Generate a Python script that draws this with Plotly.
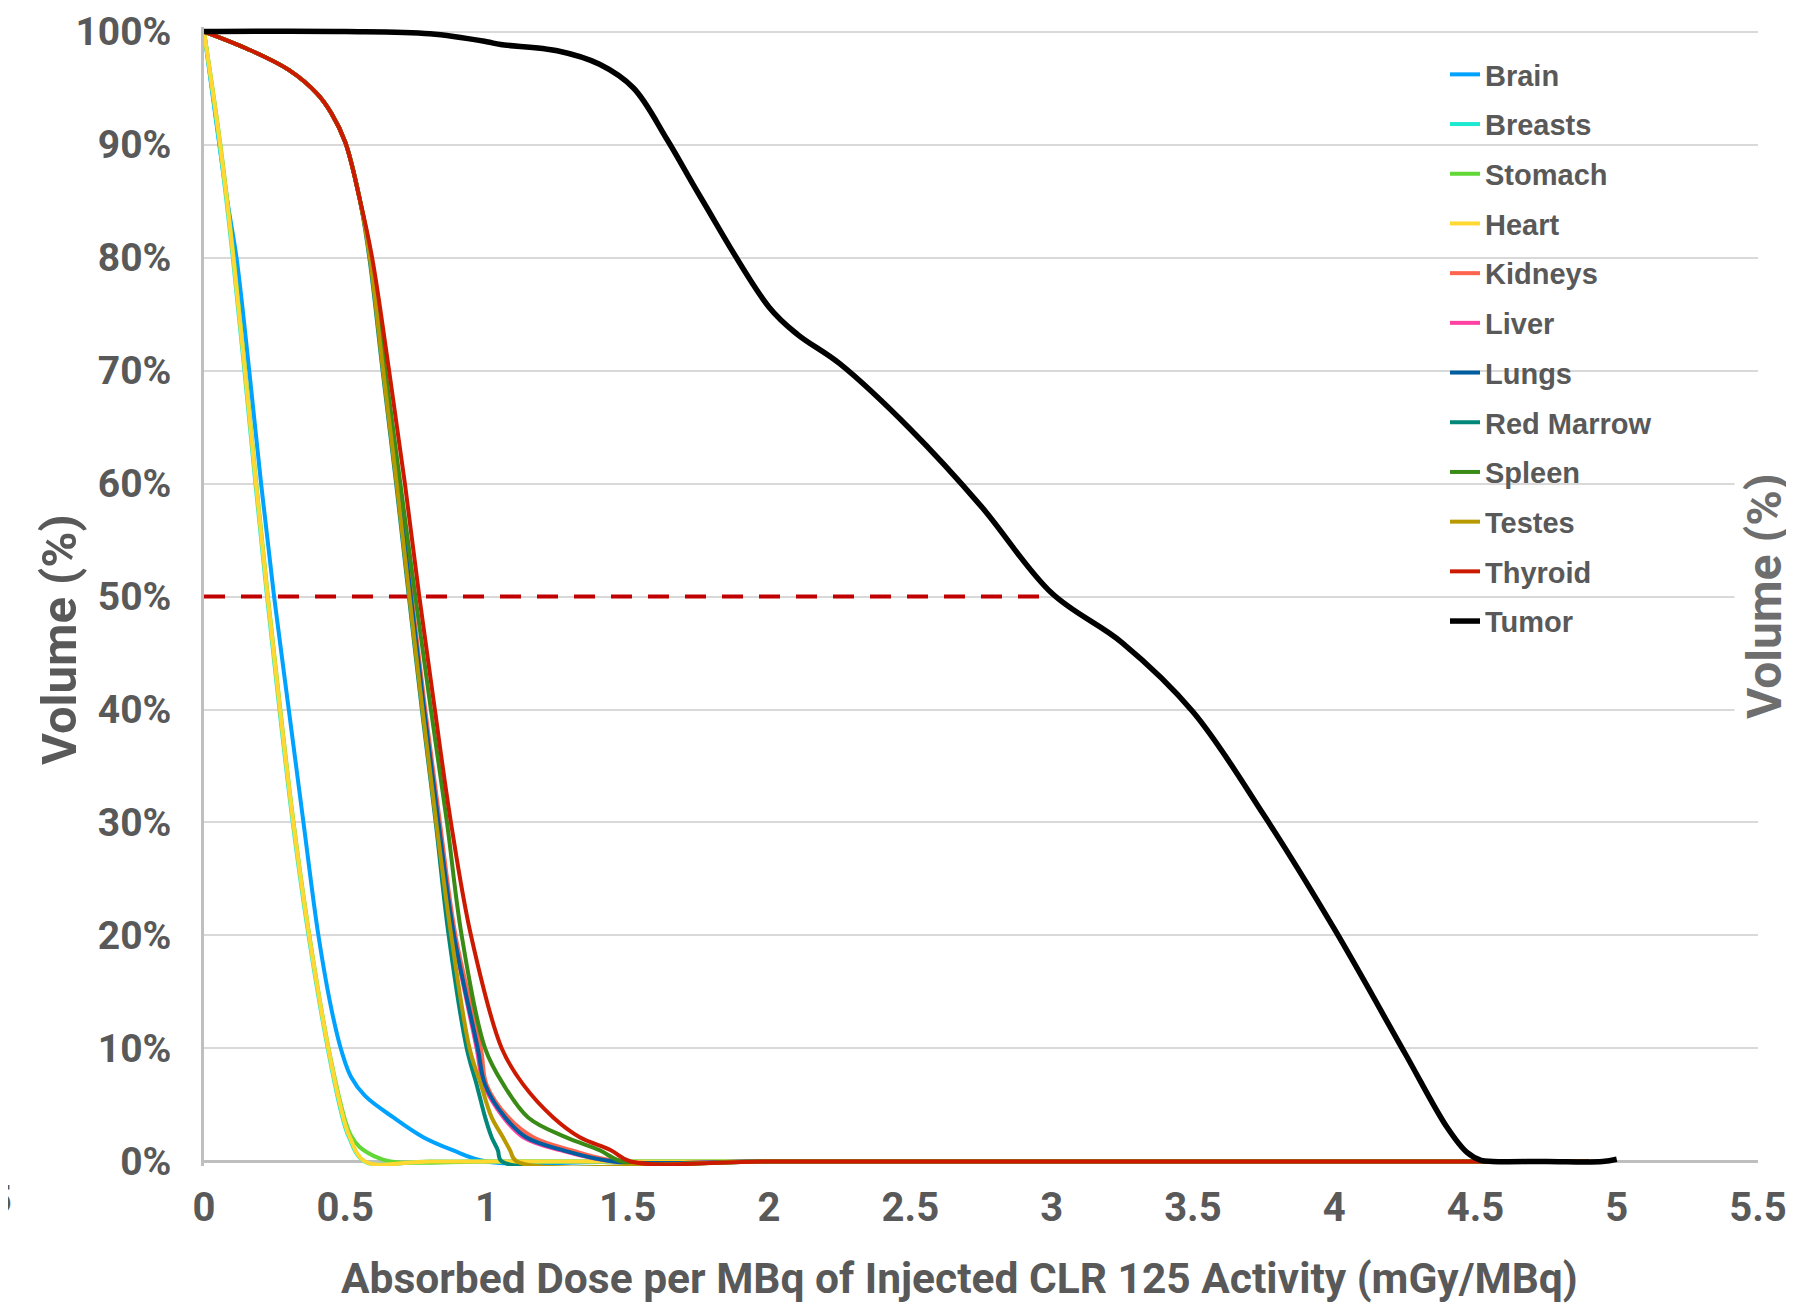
import plotly.graph_objects as go

# ---------------- data ----------------
organ_names = ["Brain", "Breasts", "Stomach", "Heart", "Kidneys", "Liver", "Lungs",
               "Red Marrow", "Spleen", "Testes", "Thyroid", "Tumor"]
organ_colors = ["#00A2FF", "#1DE9D0", "#61D836", "#FFD932", "#FF644E", "#FF42A1", "#005DA0",
                "#00877A", "#3A8A16", "#B89A00", "#CC1A00", "#000000"]

tail_zero_x = [2.0, 3.0, 4.0, 4.9]
tail_zero_y = [0, 0, 0, 0]

brain_x = [0, 0.082, 0.115, 0.16, 0.202, 0.248, 0.30, 0.352, 0.405, 0.455, 0.49, 0.52, 0.57, 0.67, 0.776, 0.88, 1.0, 1.5]
brain_y = [100, 85.1, 80, 70, 60, 50, 40, 30, 20, 13, 9.5, 7.5, 5.8, 3.9, 2.15, 1.0, 0, 0]

breasts_x = [0, 0.055, 0.102, 0.143, 0.182, 0.223, 0.267, 0.314, 0.37, 0.438, 0.49, 0.513, 0.568, 0.8, 1.5]
breasts_y = [100, 90, 80, 70, 60, 50, 40, 30, 20, 10, 3.9, 2.15, 0, 0, 0]

stomach_x = [0, 0.058, 0.105, 0.146, 0.185, 0.226, 0.27, 0.317, 0.373, 0.441, 0.5, 0.52, 0.55, 0.6, 0.66, 1.0, 1.5]
stomach_y = [100, 90, 80, 70, 60, 50, 40, 30, 20, 10, 3.6, 2.3, 1.3, 0.5, 0, 0, 0]

heart_x = [0, 0.057, 0.104, 0.145, 0.184, 0.225, 0.269, 0.316, 0.372, 0.44, 0.493, 0.516, 0.57, 0.8, 1.5]
heart_y = [100, 90, 80, 70, 60, 50, 40, 30, 20, 10, 3.9, 2.15, 0, 0, 0]

# second group: shared shoulder then individual fall-off
group2_y = [100, 98.5, 96.6, 94.5, 92.8, 90.2, 85.3, 80, 70, 60, 50, 40, 30, 20, 10, 6.8, 3.9, 2.15, 1.0, 0]
shoulder_x = [0, 0.15, 0.3, 0.4, 0.45, 0.5, 0.55]

kidneys_x = shoulder_x + [0.59, 0.638, 0.688, 0.735, 0.783, 0.835, 0.89, 0.98, 1.0, 1.077, 1.165, 1.30, 1.47]
liver_x = shoulder_x + [0.589, 0.636, 0.685, 0.731, 0.778, 0.829, 0.884, 0.965, 0.99, 1.06, 1.13, 1.26, 1.45]
lungs_x = shoulder_x + [0.589, 0.637, 0.686, 0.732, 0.779, 0.83, 0.885, 0.969, 0.995, 1.066, 1.14, 1.27, 1.45]
marrow_x = shoulder_x + [0.585, 0.632, 0.680, 0.725, 0.771, 0.82, 0.866, 0.93, 0.965, 0.995, 1.018, 1.04, 1.054]
spleen_x = shoulder_x + [0.592, 0.642, 0.695, 0.748, 0.803, 0.86, 0.912, 0.995, 1.06, 1.147, 1.28, 1.40, 1.48]
testes_x = shoulder_x + [0.587, 0.634, 0.682, 0.727, 0.773, 0.822, 0.875, 0.94, 0.98, 1.018, 1.058, 1.083, 1.107]
thyroid_x = shoulder_x + [0.595, 0.655, 0.711, 0.762, 0.817, 0.874, 0.945, 1.054, 1.13, 1.236, 1.33, 1.44, 1.51]

tumor_x = [0, 0.5, 0.8, 1.0, 1.05, 1.25, 1.4, 1.52, 1.64, 1.756, 2.0, 2.1, 2.25, 2.5, 2.75, 3.0,
           3.25, 3.5, 3.75, 4.0, 4.25, 4.4, 4.47, 4.52, 4.56, 4.75, 4.95, 5.0]
tumor_y = [100, 100, 99.8, 99.1, 98.85, 98.3, 97.1, 95.0, 90.4, 85.4, 75.6, 73.2, 70.6, 64.8, 58, 50.3,
           45.9, 39.8, 30.7, 20.6, 9.6, 3.0, 0.8, 0.1, 0, 0, 0, 0.2]

d50_x = [0, 3.0]
d50_y = [50, 50]

x_tick_vals = [0, 0.5, 1, 1.5, 2, 2.5, 3, 3.5, 4, 4.5, 5, 5.5]
x_tick_text = ["0", "0.5", "1", "1.5", "2", "2.5", "3", "3.5", "4", "4.5", "5", "5.5"]
y_tick_vals = [0, 10, 20, 30, 40, 50, 60, 70, 80, 90, 100]
y_tick_text = ["0%", "10%", "20%", "30%", "40%", "50%", "60%", "70%", "80%", "90%", "100%"]

series_x = [brain_x, breasts_x, stomach_x, heart_x, kidneys_x, liver_x, lungs_x,
            marrow_x, spleen_x, testes_x, thyroid_x, tumor_x]
series_y = [brain_y, breasts_y, stomach_y, heart_y, group2_y, group2_y, group2_y,
            group2_y, group2_y, group2_y, group2_y, tumor_y]

# ---------------- figure ----------------
OFF = 8                      # default page body margin
PAGE_W, PAGE_H = 1794, 1306
W, H = PAGE_W - OFF, PAGE_H - OFF
# plot area in page pixels: x 204..1758, y 27..1166
ML = 204 - OFF
MT = 27 - OFF
MR = W - (1758 - OFF)
MB = H - (1166 - OFF)
PW, PH = W - ML - MR, H - MT - MB

def px_x(p):
    return (p - OFF - ML) / PW

def px_y(p):
    return (H - MB - (p - OFF)) / PH

GRAY = "#595959"
FONT = "Roboto"

fig = go.Figure()

fig.add_trace(go.Scatter(x=d50_x, y=d50_y, mode="lines", showlegend=False, hoverinfo="skip",
                         line=dict(color="#C00000", width=4, dash="21px,16px")))

for i, name in enumerate(organ_names):
    xs = list(series_x[i])
    ys = list(series_y[i])
    if name != "Tumor":
        xs = xs + tail_zero_x
        ys = ys + tail_zero_y
    fig.add_trace(go.Scatter(
        x=xs, y=ys, mode="lines", name=name, legendgroup=name,
        line=dict(color=organ_colors[i], width=5.5 if name == "Tumor" else 4,
                  shape="spline", smoothing=1.0)))

fig.update_layout(
    width=W, height=H,
    margin=dict(l=ML, r=MR, t=MT, b=MB, autoexpand=False),
    paper_bgcolor="white", plot_bgcolor="white",
    font=dict(family=FONT, color=GRAY, weight="bold"),
    showlegend=True,
    legend=dict(x=px_x(1445), y=px_y(49), xanchor="left", yanchor="top",
                bgcolor="rgba(0,0,0,0)",
                font=dict(size=29, color=GRAY, family="Liberation Sans", weight="bold"),
                tracegroupgap=9.0, itemwidth=30),
    xaxis=dict(range=[0, 5.5], tickvals=x_tick_vals, ticktext=x_tick_text, automargin=False,
               showgrid=False, zeroline=False, showline=False, ticks="",
               ticklabelstandoff=14,
               tickfont=dict(size=40, color=GRAY, family=FONT, weight="bold")),
    yaxis=dict(range=[-0.4, 100.4], tickvals=y_tick_vals, ticktext=y_tick_text, automargin=False,
               showgrid=True, gridcolor="#D9D9D9", gridwidth=2,
               zeroline=True, zerolinecolor="#BFBFBF", zerolinewidth=2.5,
               showline=True, linecolor="#BFBFBF", linewidth=2.5, ticks="",
               ticklabelstandoff=22,
               tickfont=dict(size=39, color=GRAY, family=FONT, weight="bold")),
)

fig.add_annotation(text="Absorbed Dose per MBq of Injected CLR 125 Activity (mGy/MBq)",
                   xref="paper", yref="paper", x=px_x(959), y=px_y(1278),
                   xanchor="center", yanchor="middle", showarrow=False,
                   font=dict(size=42.5, color=GRAY, family=FONT, weight="bold"))
fig.add_annotation(text="Volume (%)", xref="paper", yref="paper", x=px_x(60), y=px_y(640),
                   xanchor="center", yanchor="middle", showarrow=False, textangle=-90,
                   font=dict(size=49, color=GRAY, family=FONT, weight="bold"))
fig.add_annotation(text="Volume (%)", xref="paper", yref="paper", x=px_x(1764), y=px_y(596),
                   xanchor="center", yanchor="middle", showarrow=False, textangle=-90,
                   bgcolor="white",
                   font=dict(size=48, color="#6E6E6E", family=FONT, weight="bold"))
fig.add_annotation(text="5", xref="paper", yref="paper", x=px_x(1), y=px_y(1200),
                   xanchor="center", yanchor="middle", showarrow=False,
                   font=dict(size=38, color=GRAY, family=FONT, weight="bold"))

fig.write_html("out.html")
